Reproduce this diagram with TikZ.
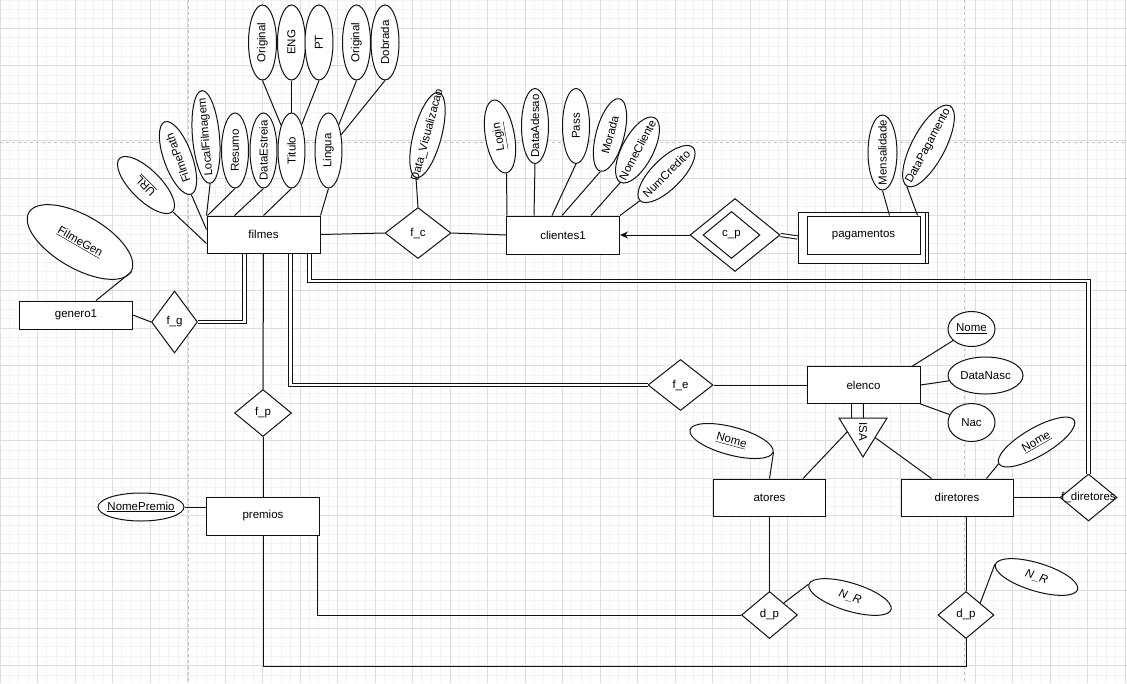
\documentclass[tikz,border=0pt]{standalone}
\usepackage{fontspec}
\setmainfont{Liberation Sans}
\usetikzlibrary{arrows.meta,positioning,calc,shapes.geometric}
\definecolor{gridfine}{HTML}{F2F2F2}
\definecolor{gridbold}{HTML}{DDDDDD}
\definecolor{pagedash}{HTML}{C4C4C4}
\definecolor{inkline}{HTML}{111111}

\begin{document}
\begin{tikzpicture}[
  x=1pt, y=-1pt,
  font=\fontsize{11.5}{13}\selectfont,
  line width=1pt,
  ztxt/.style = {execute at begin node={\hbox to 0pt\bgroup\hss},
                 execute at end node={\hss\egroup}},
  ent/.style  = {draw=inkline, fill=white, inner sep=0pt,
                 minimum width=113pt, minimum height=37pt},
  rel/.style  = {diamond, draw=inkline, fill=white, inner sep=0pt, ztxt},
  attr/.style = {ellipse, draw=inkline, fill=white, inner sep=0pt, ztxt,
                 minimum width=75pt, minimum height=28pt},
  ln/.style   = {draw=inkline},
  tot/.style  = {draw=inkline, double, double distance=2.2pt},
  fine/.style = {draw=gridfine, line width=0.8pt},
  bold/.style = {draw=gridbold, line width=0.8pt},
]
\useasboundingbox (0,0) rectangle (1127,683);

% --- page grid ----------------------------------------------------------------------------------
\foreach \g in {0,...,120} \draw[fine] (\g*9.375,0) -- (\g*9.375,683);
\foreach \g in {0,...,73}  \draw[fine] (0,\g*9.375) -- (1127,\g*9.375);
\foreach \g in {0,...,30}  \draw[bold] (\g*37.5,0) -- (\g*37.5,683);
\foreach \g in {0,...,17}  \draw[bold] (0,28.1+\g*37.5) -- (1127,28.1+\g*37.5);
\draw[pagedash, dashed, line width=0.9pt] (188,0) -- (188,683) (964,0) -- (964,683) (0,142) -- (1127,142);

% --- entities -----------------------------------------------------------------------------------
\node[ent] (filmes)     at (263.5,234.5) {filmes};
\node[ent, minimum height=38pt] (clientes1) at (563,235) {clientes1};
\node[ent, minimum height=28pt] (genero1)   at (76,315) {genero1};
\node[ent, minimum height=38pt] (premios)   at (263,516) {premios};
\node[ent] (elenco)     at (863.5,385) {elenco};
\node[ent, minimum width=112pt] (atores)    at (769.5,497.5) {atores};
\node[ent, minimum width=112pt] (diretores) at (957,497.5) {diretores};
\node[ent, minimum width=130pt, minimum height=51pt] (pagout) at (863,237.5) {};
\node[ent, minimum height=38pt] (pagamentos) at (863.5,235) {pagamentos};

% --- relationships ------------------------------------------------------------------------------
\node[rel, minimum width=66pt, minimum height=51pt] (fc)   at (418,233) {f\_c};
\node[rel, minimum width=46pt, minimum height=62pt] (fg)   at (174.5,322) {f\_g};
\node[rel, minimum width=57pt, minimum height=47pt] (fp)   at (263,413) {f\_p};
\node[rel, minimum width=65pt, minimum height=51pt] (fe)   at (680.5,385) {f\_e};
\node[rel, minimum width=90pt, minimum height=73pt] (cp)   at (735,235) {};
\node[rel, minimum width=57pt, minimum height=47pt] (cpin) at (731.5,235) {c\_p};
\node[rel, minimum width=56pt, minimum height=47pt] (dpa)  at (769.5,615) {d\_p};
\node[rel, minimum width=56pt, minimum height=47pt] (dpd)  at (966,615) {d\_p};
\node[rel, minimum width=57pt, minimum height=47pt] (fdir) at (1088.5,497.5) {f\_diretores};

% --- ISA ----------------------------------------------------------------------------------------
\coordinate (isatl)  at (839,418);
\coordinate (isatr)  at (887,418);
\coordinate (isatip) at (863,457);
\draw[ln, fill=white] (isatl) -- (isatr) -- (isatip) -- cycle;
\node[rotate=-90, inner sep=0pt] (isa) at (863,432) {ISA};

% --- attributes ---------------------------------------------------------------------------------
\node[attr, minimum height=30pt, rotate=135] (url) at (146,185) {\underline{URL}};
\node[attr, minimum width=77pt, rotate=110] (filmepath) at (178,158) {FilmePath};
\node[attr, minimum width=93pt, minimum height=27pt, rotate=95] (localfilm) at (206,137) {LocalFilmagem};
\node[attr, minimum height=27pt, rotate=90] (resumo)      at (235,150.5) {Resumo};
\node[attr, minimum height=27pt, rotate=90] (dataestreia) at (263.5,150.5) {DataEstreia};
\node[attr, minimum height=27pt, rotate=90] (titulo)      at (291.5,150.5) {Titulo};
\node[attr, minimum height=27pt, rotate=90] (lingua)      at (328.5,150.5) {Lingua};
\node[attr, rotate=90] (torig) at (262.5,42.5) {Original};
\node[attr, rotate=90] (teng)  at (291.5,42.5) {ENG};
\node[attr, rotate=90] (tpt)   at (319,42.5) {PT};
\node[attr, rotate=90] (lorig) at (356.5,42.5) {Original};
\node[attr, rotate=90] (ldob)  at (385,42.5) {Dobrada};

\node[attr, minimum width=118pt, minimum height=53pt, rotate=-30] (filmegen) at (80,242) {\underline{FilmeGen}};

\node[attr, minimum width=88pt, rotate=75] (datavis) at (427.5,135) {Data\_Visualizacao};
\node[attr, minimum width=74pt, minimum height=29pt, rotate=100] (login) at (500,136.5) {\underline{Login}};
\node[attr, minimum height=27pt, rotate=90] (dataadesao) at (535,126) {DataAdesao};
\node[attr, minimum height=27pt, rotate=90] (pass)       at (576,126) {Pass};
\node[attr, rotate=75] (morada) at (610,135) {Morada};
\node[attr, minimum width=73pt, minimum height=31pt, rotate=62] (nomecliente) at (637.5,150) {NomeCliente};
\node[attr, minimum height=30pt, rotate=45] (numcredito) at (666.5,174) {NumCredito};

\node[attr, minimum height=29pt, rotate=90] (mensalidade) at (882.5,152.5) {Mensalidade};
\node[attr, minimum width=91pt, minimum height=33pt, rotate=62] (datapag) at (928.5,146) {DataPagamento};

\node[attr, minimum width=86pt] (nomepremio) at (141,507) {\underline{NomePremio}};

\node[attr, minimum width=47pt, minimum height=35pt] (enome)    at (971.5,329) {\underline{Nome}};
\node[attr, minimum width=75pt, minimum height=37pt] (datanasc) at (985.5,375.5) {DataNasc};
\node[attr, minimum width=47pt, minimum height=38pt] (nac)      at (971.5,422.5) {Nac};

\node[attr, minimum width=86pt, rotate=-15] (anome) at (731.5,441) {\underline{Nome}};
\node[attr, minimum width=87pt, rotate=30]  (dnome) at (1036.5,442) {\underline{Nome}};
\node[attr, minimum width=86pt, rotate=-17] (nra)   at (850,597) {\textit{N\_R}};
\node[attr, minimum width=86pt, rotate=-17] (nrd)   at (1036.5,577) {\textit{N\_R}};

% --- filmes and what hangs off it ---------------------------------------------------------------
\draw[ln] (url.west)         -- ([yshift=-9pt]filmes.west);
\draw[ln] (filmepath.west)   -- ([yshift=-14pt]filmes.north west);
\draw[ln] (localfilm.west)   -- (filmes.north west);
\draw[ln] (resumo.west)      -- ([xshift=1pt]filmes.north west);
\draw[ln] (dataestreia.west) -- ([xshift=28pt]filmes.north west);
\draw[ln] (titulo.west)      -- (filmes.north);
\draw[ln] (lingua.west)      -- (filmes.north east);
\draw[ln] (torig.west) -- (titulo);
\draw[ln] (teng.west)  -- (titulo.east);
\draw[ln] (tpt.west)   -- (titulo);
\draw[ln] (lorig.west) -- (lingua);
\draw[ln] (ldob.west)  -- (lingua);

% --- genero1 ------------------------------------------------------------------------------------
\draw[ln]  (filmegen.east) -- ([xshift=20pt]genero1.north);
\draw[ln]  (genero1.east) -- (fg.west);
\draw[tot] (fg.east) -| ([xshift=38pt]filmes.south west);

% --- clientes1 and pagamentos -------------------------------------------------------------------
\draw[ln] (filmes.east) -- (fc.west);
\draw[ln] (fc.east) -- (clientes1.west);
\draw[ln] (datavis.west) -- (fc.north);
\draw[ln] (login.west)       -- ([xshift=1pt]clientes1.north west);
\draw[ln] (dataadesao.west)  -- ([xshift=28pt]clientes1.north west);
\draw[ln] (pass.west)        -- ([xshift=46pt]clientes1.north west);
\draw[ln] (morada.west)      -- ([xshift=56pt]clientes1.north west);
\draw[ln] (nomecliente.west) -- ([xshift=85pt]clientes1.north west);
\draw[ln] (numcredito.west)  -- (clientes1.north east);
\draw[ln, -{Stealth[length=8pt, width=7pt]}] (cp.west) -- (clientes1.east);
\draw[tot] (cp.east) -- (pagout.west);
\draw[ln] ([xshift=-3pt]pagout.north east) -- ([xshift=-3pt]pagout.south east);
\draw[ln] (mensalidade.west) -- ([xshift=83pt]pagamentos.north west);
\draw[ln] (datapag.west)     -- ([xshift=111pt]pagamentos.north west);

% --- premios ------------------------------------------------------------------------------------
\coordinate (premrun) at (966,666);
\draw[ln] (filmes.south) -- (fp.north);
\draw[ln] (fp.south) -- (premios.north);
\draw[ln] (nomepremio) -- ([yshift=9pt]premios.west);
\draw[ln] ([xshift=-3pt]premios.south east) |- (dpa.west);
\draw[ln] (premios.south) |- (premrun) -- (dpd.south);

% --- elenco and its ISA -------------------------------------------------------------------------
\draw[tot] ([xshift=84pt]filmes.south west) |- (fe.west);
\draw[ln] (fe.east) -- (elenco.west);
\draw[ln] (enome)    -- ([xshift=-8pt]elenco.north east);
\draw[ln] (datanasc) -- (elenco.east);
\draw[ln] (nac)      -- (elenco.south east);
\draw[ln] ([xshift=-12pt]elenco.south) -- ([xshift=-12pt]elenco.south |- isatl);
\draw[ln] (elenco.south) -- (elenco.south |- isatl);
\draw[ln] ($(isatl)!0.35!(isatip)$) -- ([xshift=-23pt]atores.north east);
\draw[ln] ($(isatr)!0.5!(isatip)$)  -- ([xshift=31pt]diretores.north west);
\draw[ln] (anome.east) -- (atores.north);
\draw[ln] (dnome.west) -- ([xshift=86pt]diretores.north west);

% --- diretores ----------------------------------------------------------------------------------
\coordinate (dirbend) at (1088.5,281);
\draw[tot] ([xshift=103pt]filmes.south west) |- (dirbend) -- (fdir.north);
\draw[ln] (diretores.east) -- (fdir.west);
\draw[ln] (atores.south) -- (dpa.north);
\draw[ln] (dpd.north) -- (dpd.north |- diretores.south);
\draw[ln] (nra.west) -- (dpa.north east);
\draw[ln] (nrd.west) -- (dpd.north east);

\end{tikzpicture}
\end{document}
